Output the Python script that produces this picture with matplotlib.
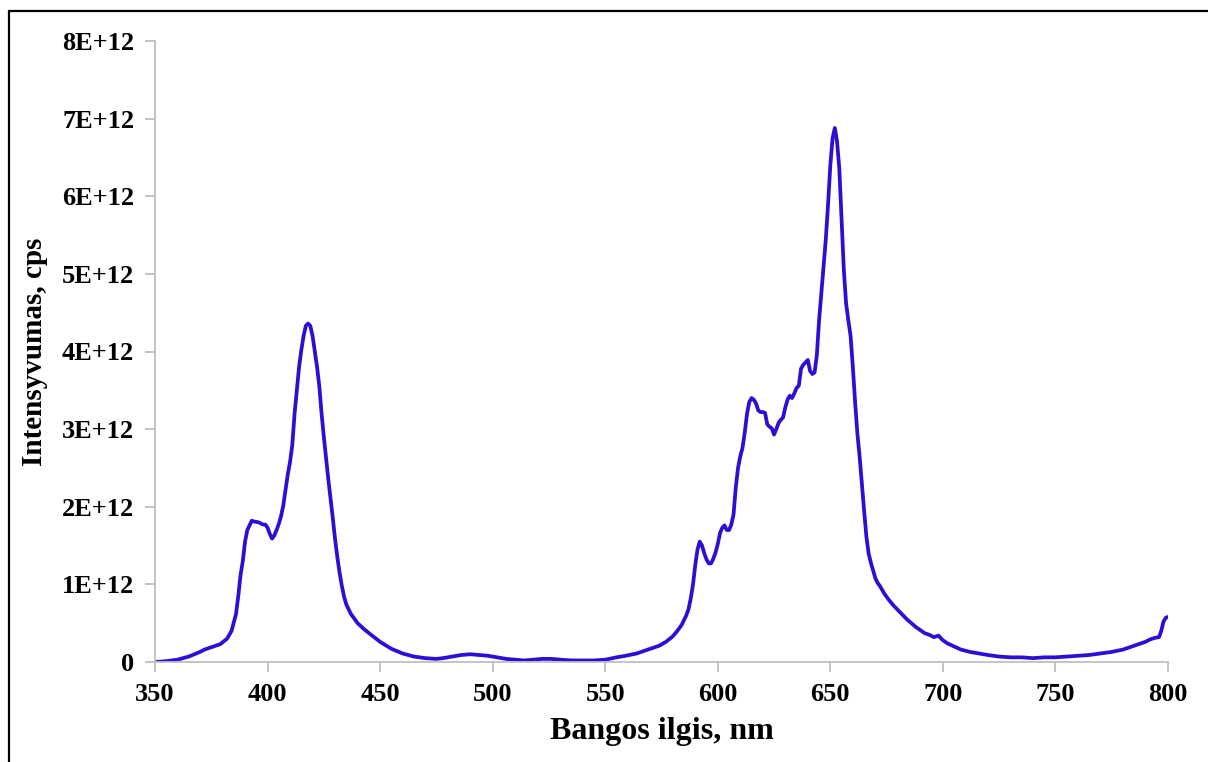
import matplotlib
matplotlib.use('Agg')
from matplotlib import pyplot as plt
from matplotlib.patches import Rectangle
from matplotlib.ticker import FuncFormatter

# emission spectrum: (wavelength nm, intensity in 1E+12 cps)
blue_band = [(350, 0.00), (355, 0.01), (360, 0.03), (365, 0.07), (370, 0.13), (372, 0.16),
             (375, 0.19), (379, 0.23), (382, 0.30), (384, 0.40), (386, 0.62), (387, 0.85),
             (388, 1.12), (389, 1.30), (390, 1.55), (391, 1.70), (392, 1.76), (393, 1.82),
             (394, 1.81), (396, 1.80), (398, 1.77), (399, 1.77), (400, 1.73), (401, 1.65),
             (402, 1.59), (403, 1.63), (404, 1.70), (405, 1.78), (406, 1.88), (407, 2.02),
             (408, 2.22), (409, 2.42), (410, 2.58), (411, 2.80), (412, 3.20), (413, 3.50),
             (414, 3.80), (415, 4.02), (416, 4.20), (417, 4.33), (418, 4.36), (419, 4.33),
             (420, 4.20), (421, 4.00), (422, 3.80), (423, 3.55), (424, 3.20), (425, 2.90),
             (426, 2.62), (427, 2.35), (428, 2.10), (429, 1.85), (430, 1.58), (431, 1.35),
             (432, 1.15), (433, 0.98), (434, 0.84), (435, 0.74), (437, 0.62), (440, 0.50),
             (443, 0.42), (446, 0.35), (450, 0.26), (455, 0.17), (460, 0.11), (465, 0.07),
             (470, 0.05), (475, 0.04)]
green_gap = [(478, 0.05), (482, 0.07), (486, 0.09), (490, 0.10), (494, 0.09), (498, 0.08),
             (502, 0.06), (506, 0.04), (510, 0.03), (514, 0.02), (518, 0.03), (522, 0.04),
             (526, 0.04), (530, 0.03), (535, 0.02), (540, 0.02), (545, 0.02), (550, 0.03),
             (555, 0.06), (559, 0.08), (564, 0.11), (568, 0.15), (571, 0.18), (574, 0.21),
             (577, 0.26), (580, 0.33), (582, 0.40), (584, 0.48), (586, 0.60)]
red_band = [(587, 0.68), (588, 0.82), (589, 1.00), (590, 1.25), (591, 1.45), (592, 1.55),
            (593, 1.50), (594, 1.40), (595, 1.32), (596, 1.27), (597, 1.27), (598, 1.33),
            (599, 1.41), (600, 1.52), (601, 1.66), (602, 1.73), (603, 1.76), (604, 1.70),
            (605, 1.70), (606, 1.77), (607, 1.90), (608, 2.25), (609, 2.50), (610, 2.65),
            (611, 2.76), (612, 2.96), (613, 3.20), (614, 3.35), (615, 3.40), (616, 3.38),
            (617, 3.33), (618, 3.24), (619, 3.22), (620, 3.22), (621, 3.21), (622, 3.06),
            (623, 3.03), (624, 3.01), (625, 2.93), (626, 3.00), (627, 3.08), (628, 3.12),
            (629, 3.15), (630, 3.28), (631, 3.38), (632, 3.43), (633, 3.40), (634, 3.46),
            (635, 3.53), (636, 3.56), (637, 3.78), (638, 3.83), (639, 3.86), (640, 3.89),
            (641, 3.75), (642, 3.71), (643, 3.73), (644, 3.95), (645, 4.40), (646, 4.75),
            (647, 5.10), (648, 5.45), (649, 5.90), (650, 6.40), (651, 6.75), (652, 6.88),
            (653, 6.70), (654, 6.35), (655, 5.70), (656, 5.05), (657, 4.62), (658, 4.40),
            (659, 4.20), (660, 3.80), (661, 3.35), (662, 2.95), (663, 2.65), (664, 2.30),
            (665, 1.95), (666, 1.62), (667, 1.40), (668, 1.28), (669, 1.18), (670, 1.08),
            (671, 1.02), (672, 0.98), (674, 0.88), (676, 0.80), (678, 0.73), (680, 0.67),
            (682, 0.61), (684, 0.55), (686, 0.50), (688, 0.45), (690, 0.41), (692, 0.37),
            (694, 0.35), (696, 0.32), (698, 0.34), (700, 0.28), (702, 0.24), (705, 0.20),
            (708, 0.16), (712, 0.13), (716, 0.11), (720, 0.09), (725, 0.07), (730, 0.06),
            (735, 0.06), (740, 0.05), (745, 0.06), (750, 0.06), (755, 0.07), (760, 0.08),
            (765, 0.09), (770, 0.11), (775, 0.13), (780, 0.16), (784, 0.20), (787, 0.23),
            (790, 0.26), (792, 0.29), (794, 0.31), (796, 0.32), (797, 0.40), (798, 0.52),
            (799, 0.57), (800, 0.58)]

x_ticks = [350, 400, 450, 500, 550, 600, 650, 700, 750, 800]
y_ticks = [0, 1, 2, 3, 4, 5, 6, 7, 8]

plt.rcParams['font.family'] = ['Liberation Serif', 'DejaVu Serif']
plt.rcParams['font.weight'] = 'bold'

spectrum = blue_band + green_gap + red_band
wavelength = [p[0] for p in spectrum]
intensity = [p[1] for p in spectrum]

fig = plt.figure(figsize=(12.08, 7.62), dpi=100)
ax = fig.add_axes([155 / 1208, 100 / 762, 1013 / 1208, 621 / 762])

ax.plot(wavelength, intensity, color='#2B0FD4', lw=2.7, solid_joinstyle='round')

ax.set_xlim(350, 800)
ax.set_ylim(0, 8)
ax.set_xticks(x_ticks)
ax.set_yticks(y_ticks)
ax.yaxis.set_major_formatter(FuncFormatter(lambda v, p: '0' if v == 0 else '%dE+12' % v))

for side in ('top', 'right'):
    ax.spines[side].set_visible(False)
for side in ('left', 'bottom'):
    ax.spines[side].set_color('#BFBFBF')
    ax.spines[side].set_linewidth(1.3)
ax.tick_params(direction='out', length=7, width=1.3, color='#BFBFBF',
               labelsize=19, pad=8)
for lab in ax.get_xticklabels() + ax.get_yticklabels():
    lab.set_fontweight('bold')

ax.set_xlabel('Bangos ilgis, nm', fontsize=23, fontweight='bold', labelpad=8)
ax.set_ylabel('Intensyvumas, cps', fontsize=21, fontweight='bold', labelpad=10)

# outer chart frame
fig.patches.append(Rectangle((9 / 1208, -0.1), 1.2, 1.1 - 11 / 762,
                             transform=fig.transFigure, fill=False,
                             edgecolor='black', lw=1.6, zorder=-1))

fig.savefig('out.png', dpi=100)
